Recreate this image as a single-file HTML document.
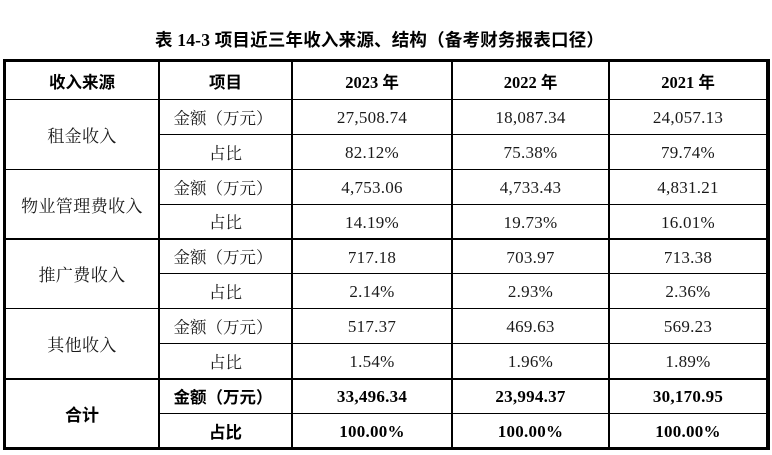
<!DOCTYPE html>
<html>
<head>
<meta charset="utf-8">
<style>
html,body{margin:0;padding:0;background:#fff;}
body{width:772px;height:455px;position:relative;overflow:hidden;}
.l{position:absolute;background:#000;}
.t{position:absolute;display:flex;align-items:center;justify-content:center;white-space:nowrap;color:#1a1a1a;box-sizing:border-box;}
.cjk{font-family:"Liberation Serif","Noto Serif CJK SC",serif;font-size:16.5px;}
.c1{font-family:"Liberation Serif","Noto Serif CJK SC",serif;font-size:17px;letter-spacing:0.4px;}
.num{font-family:"Liberation Serif",serif;font-size:17px;letter-spacing:0.25px;padding-top:3px;}
.bh{font-family:"Liberation Serif","Noto Sans CJK SC",sans-serif;font-weight:bold;font-size:16.5px;color:#000;}
.bnum{font-family:"Liberation Serif",serif;font-weight:bold;font-size:17px;letter-spacing:0.25px;color:#000;padding-top:2px;}
.title{position:absolute;left:155px;top:29px;height:22px;line-height:22px;font-family:"Liberation Serif","Noto Sans CJK SC",sans-serif;font-weight:bold;font-size:17.5px;color:#000;white-space:nowrap;letter-spacing:0.2px;}
</style>
</head>
<body>
<div class="title">表 14-3 项目近三年收入来源、结构（备考财务报表口径）</div>

<!-- outer borders -->
<div class="l" style="left:3px;top:59px;width:767px;height:3px;"></div>
<div class="l" style="left:3px;top:447px;width:767px;height:3px;"></div>
<div class="l" style="left:3px;top:59px;width:3px;height:391px;"></div>
<div class="l" style="left:766px;top:59px;width:3.5px;height:391px;"></div>

<!-- vertical inner -->
<div class="l" style="left:158px;top:60px;width:2px;height:390px;"></div>
<div class="l" style="left:291px;top:60px;width:2px;height:390px;"></div>
<div class="l" style="left:451px;top:60px;width:2px;height:390px;"></div>
<div class="l" style="left:608px;top:60px;width:2px;height:390px;"></div>

<!-- horizontal -->
<div class="l" style="left:5px;top:98.5px;width:763px;height:1.5px;"></div>
<div class="l" style="left:159px;top:133.5px;width:609px;height:1px;"></div>
<div class="l" style="left:5px;top:168.5px;width:763px;height:1.5px;"></div>
<div class="l" style="left:159px;top:203.5px;width:609px;height:1px;"></div>
<div class="l" style="left:5px;top:238px;width:763px;height:1.5px;"></div>
<div class="l" style="left:159px;top:273px;width:609px;height:1px;"></div>
<div class="l" style="left:5px;top:307.5px;width:763px;height:1.5px;"></div>
<div class="l" style="left:159px;top:343px;width:609px;height:1px;"></div>
<div class="l" style="left:5px;top:378px;width:763px;height:1.8px;"></div>
<div class="l" style="left:159px;top:413px;width:609px;height:1px;"></div>

<!-- header -->
<div class="t bh" style="left:6px;width:152px;top:62px;height:37px;">收入来源</div>
<div class="t bh" style="left:160px;width:131px;top:62px;height:37px;">项目</div>
<div class="t bh" style="left:293px;width:158px;top:62px;height:37px;">2023 年</div>
<div class="t bh" style="left:453px;width:155px;top:62px;height:37px;">2022 年</div>
<div class="t bh" style="left:610px;width:156px;top:62px;height:37px;">2021 年</div>

<!-- group labels -->
<div class="t c1" style="left:6px;width:152px;top:100px;height:69px;">租金收入</div>
<div class="t c1" style="left:6px;width:152px;top:170px;height:68px;">物业管理费收入</div>
<div class="t c1" style="left:6px;width:152px;top:239px;height:69px;">推广费收入</div>
<div class="t c1" style="left:6px;width:152px;top:309px;height:69px;">其他收入</div>
<div class="t bh" style="left:6px;width:152px;top:380px;height:67px;font-size:17px;">合计</div>

<!-- row 1 -->
<div class="t cjk" style="left:160px;width:126px;top:99px;height:35px;">金额（万元）</div>
<div class="t num" style="left:293px;width:158px;top:99px;height:35px;">27,508.74</div>
<div class="t num" style="left:453px;width:155px;top:99px;height:35px;">18,087.34</div>
<div class="t num" style="left:610px;width:156px;top:99px;height:35px;">24,057.13</div>
<!-- row 2 -->
<div class="t cjk" style="left:160px;width:131px;top:134px;height:35px;">占比</div>
<div class="t num" style="left:293px;width:158px;top:134px;height:35px;">82.12%</div>
<div class="t num" style="left:453px;width:155px;top:134px;height:35px;">75.38%</div>
<div class="t num" style="left:610px;width:156px;top:134px;height:35px;">79.74%</div>
<!-- row 3 -->
<div class="t cjk" style="left:160px;width:126px;top:169px;height:35px;">金额（万元）</div>
<div class="t num" style="left:293px;width:158px;top:169px;height:35px;">4,753.06</div>
<div class="t num" style="left:453px;width:155px;top:169px;height:35px;">4,733.43</div>
<div class="t num" style="left:610px;width:156px;top:169px;height:35px;">4,831.21</div>
<!-- row 4 -->
<div class="t cjk" style="left:160px;width:131px;top:204px;height:34px;">占比</div>
<div class="t num" style="left:293px;width:158px;top:204px;height:34px;">14.19%</div>
<div class="t num" style="left:453px;width:155px;top:204px;height:34px;">19.73%</div>
<div class="t num" style="left:610px;width:156px;top:204px;height:34px;">16.01%</div>
<!-- row 5 -->
<div class="t cjk" style="left:160px;width:126px;top:239px;height:34px;">金额（万元）</div>
<div class="t num" style="left:293px;width:158px;top:239px;height:34px;">717.18</div>
<div class="t num" style="left:453px;width:155px;top:239px;height:34px;">703.97</div>
<div class="t num" style="left:610px;width:156px;top:239px;height:34px;">713.38</div>
<!-- row 6 -->
<div class="t cjk" style="left:160px;width:131px;top:273px;height:35px;">占比</div>
<div class="t num" style="left:293px;width:158px;top:273px;height:35px;">2.14%</div>
<div class="t num" style="left:453px;width:155px;top:273px;height:35px;">2.93%</div>
<div class="t num" style="left:610px;width:156px;top:273px;height:35px;">2.36%</div>
<!-- row 7 -->
<div class="t cjk" style="left:160px;width:126px;top:308px;height:35px;">金额（万元）</div>
<div class="t num" style="left:293px;width:158px;top:308px;height:35px;">517.37</div>
<div class="t num" style="left:453px;width:155px;top:308px;height:35px;">469.63</div>
<div class="t num" style="left:610px;width:156px;top:308px;height:35px;">569.23</div>
<!-- row 8 -->
<div class="t cjk" style="left:160px;width:131px;top:343px;height:35px;">占比</div>
<div class="t num" style="left:293px;width:158px;top:343px;height:35px;">1.54%</div>
<div class="t num" style="left:453px;width:155px;top:343px;height:35px;">1.96%</div>
<div class="t num" style="left:610px;width:156px;top:343px;height:35px;">1.89%</div>
<!-- total rows -->
<div class="t bh" style="left:160px;width:126px;top:379px;height:34px;">金额（万元）</div>
<div class="t bnum" style="left:293px;width:158px;top:379px;height:34px;">33,496.34</div>
<div class="t bnum" style="left:453px;width:155px;top:379px;height:34px;">23,994.37</div>
<div class="t bnum" style="left:610px;width:156px;top:379px;height:34px;">30,170.95</div>
<div class="t bh" style="left:160px;width:131px;top:414px;height:33px;">占比</div>
<div class="t bnum" style="left:293px;width:158px;top:414px;height:33px;">100.00%</div>
<div class="t bnum" style="left:453px;width:155px;top:414px;height:33px;">100.00%</div>
<div class="t bnum" style="left:610px;width:156px;top:414px;height:33px;">100.00%</div>
</body>
</html>
